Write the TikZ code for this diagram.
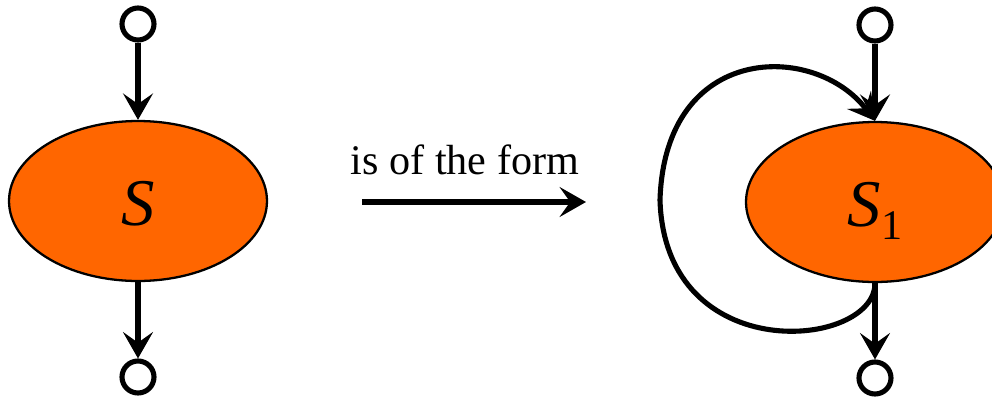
\documentclass[tikz,border=0pt]{standalone}
\usepackage{fontspec}
\setmainfont{Liberation Serif}
\usetikzlibrary{positioning,arrows.meta,shapes.geometric}
\definecolor{blobfill}{HTML}{FF6600}

\begin{document}
\begin{tikzpicture}[x=0.02cm, y=0.02cm, >={Stealth[length=15pt, width=17pt, inset=6pt]},
  blob/.style={draw, ellipse, fill=blobfill, line width=1.3pt, minimum width=5.16cm, minimum height=3.2cm, inner sep=0pt, text height=27.5pt, text depth=0pt, font=\fontsize{38}{44}\selectfont\itshape},
  port/.style={draw, circle, fill=white, line width=2.9pt, minimum size=0.64cm, inner sep=0pt},
  wire/.style={->, line width=2.9pt}]
  \useasboundingbox (0,0) rectangle (992,397);
  % left side
  \node[blob] (s) at (138,196) {S};
  \node[port] (sin) at (138,373) {};
  \node[port] (sout) at (138,20) {};
  \draw[wire] (sin) -- (s);
  \draw[wire] (s) -- (sout);
  % middle
  \node[font=\fontsize{24}{28}\selectfont] (lbl) at (465,237) {is of the form};
  \coordinate (fa) at (362,195);
  \coordinate (fb) at (586,195);
  \draw[wire] (fa) -- (fb);
  % right side
  \node[blob] (s1) at (875,195) {S\raisebox{-7.4pt}{\upshape\fontsize{24}{28}\selectfont 1}};
  \node[port] (s1in) at (875,372) {};
  \node[port] (s1out) at (875,19) {};
  \coordinate (loopw) at (660,197);
  \draw[wire] (s1in) -- (s1);
  \draw[wire] (s1) -- (s1out);
  \draw[wire] (s1.south) .. controls (875,48) and (665,28) .. (loopw)
    .. controls (665,355) and (815,355) .. (s1.north);
\end{tikzpicture}
\end{document}
